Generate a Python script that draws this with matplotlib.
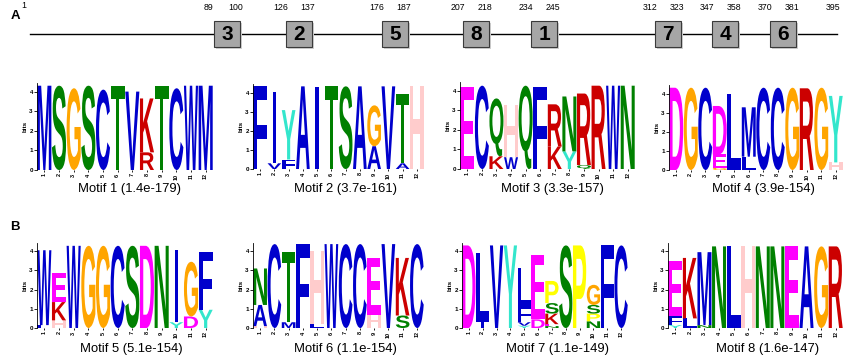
import numpy as np
import matplotlib.pyplot as plt
from matplotlib.patches import Rectangle, PathPatch
from matplotlib.textpath import TextPath
from matplotlib.font_manager import FontProperties
import matplotlib.transforms as mtransforms

# Protein schematic ----------------------------------------------------------
seq_len = 395
box_motif = [3, 2, 5, 8, 1, 7, 4, 6]
box_start = [89, 126, 176, 207, 234, 312, 347, 370]
box_end = [100, 137, 187, 218, 245, 323, 358, 381]
# schematic is not drawn to scale, left edges of boxes in pixels
box_left_px = [214, 286, 382, 463, 531, 655, 712, 770]

# Motif logos: each column is a list of (letter, bits) from bottom to top ----
logo_1 = [[("M", 4.3)], [("S", 4.3)], [("G", 4.17)], [("S", 4.3)], [("C", 4.1)],
          [("T", 4.3)], [("V", 4.0)], [("R", 0.9), ("K", 2.75)], [("T", 4.3)],
          [("C", 4.17)], [("W", 4.3)], [("M", 4.3)]]
logo_2 = [[("F", 4.35)], [("V", 0.3), ("I", 3.75)], [("F", 0.5), ("Y", 2.6)],
          [("A", 4.35)], [("I", 4.3)], [("T", 4.35)], [("S", 4.35)], [("A", 4.35)],
          [("A", 1.2), ("G", 2.15)], [("V", 4.35)], [("A", 0.3), ("T", 3.65)],
          [("H", 4.35)]]
logo_3 = [[("E", 4.17)], [("C", 4.25)], [("K", 0.65), ("Q", 2.95)],
          [("W", 0.6), ("H", 2.65)], [("Q", 4.25)], [("F", 4.17)],
          [("K", 1.15), ("R", 2.15)], [("Y", 0.9), ("N", 2.8)],
          [("Q", 0.2), ("R", 3.65)], [("R", 4.25)], [("W", 4.25)], [("N", 4.25)]]
logo_4 = [[("D", 4.33)], [("G", 4.33)], [("C", 4.33)],
          [("G", 0.12), ("E", 0.7), ("D", 2.55)], [("L", 4.0)],
          [("L", 0.7), ("M", 2.6)], [("C", 4.33)], [("C", 4.33)], [("G", 4.33)],
          [("R", 4.3)], [("G", 4.33)], [("H", 0.4), ("Y", 3.5)]]
logo_5 = [[("L", 0.15), ("W", 3.9)], [("H", 0.4), ("K", 0.95), ("E", 1.5)],
          [("W", 4.28)], [("G", 4.28)], [("G", 4.28)], [("C", 4.28)], [("S", 4.28)],
          [("D", 4.28)], [("N", 4.28)], [("Y", 0.3), ("I", 3.75)],
          [("D", 0.6), ("G", 2.85)], [("Y", 0.95), ("F", 3.0)]]
logo_6 = [[("H", 0.1), ("A", 1.1), ("N", 1.9)], [("C", 4.37)],
          [("M", 0.3), ("T", 3.65)], [("F", 4.37)], [("L", 0.2), ("H", 3.8)],
          [("W", 4.37)], [("C", 4.37)], [("C", 4.37)], [("H", 0.7), ("E", 2.95)],
          [("V", 4.37)], [("S", 0.65), ("K", 3.0)], [("C", 4.37)]]
logo_7 = [[("D", 4.3)], [("I", 0.3), ("L", 3.6)], [("V", 4.3)], [("Y", 4.3)],
          [("Y", 0.12), ("V", 0.18), ("F", 0.85), ("L", 1.95)],
          [("D", 0.45), ("E", 3.35)],
          [("N", 0.1), ("E", 0.1), ("K", 0.55), ("S", 0.55), ("P", 1.15)],
          [("S", 4.3)], [("P", 4.3)],
          [("N", 0.35), ("P", 0.4), ("S", 0.45), ("G", 1.05)],
          [("F", 4.3)], [("C", 4.3)]]
logo_8 = [[("Y", 0.15), ("F", 0.45), ("E", 2.9)], [("L", 0.5), ("K", 3.15)],
          [("N", 0.15), ("M", 3.8)], [("N", 4.25)], [("L", 4.25)], [("H", 4.25)],
          [("N", 4.25)], [("N", 4.25)], [("E", 4.25)], [("A", 4.25)], [("G", 4.25)],
          [("R", 4.25)]]

logos = [logo_1, logo_2, logo_3, logo_4, logo_5, logo_6, logo_7, logo_8]
motif_names = ["Motif 1", "Motif 2", "Motif 3", "Motif 4",
               "Motif 5", "Motif 6", "Motif 7", "Motif 8"]
motif_evalues = ["1.4e-179", "3.7e-161", "3.3e-157", "3.9e-154",
                 "5.1e-154", "1.1e-154", "1.1e-149", "1.6e-147"]

# MEME style amino acid colours
aa_color = {}
for a in "ACFILMVW":
    aa_color[a] = "#0000cc"
for a in "NQST":
    aa_color[a] = "#008000"
for a in "DE":
    aa_color[a] = "#ff00ff"
for a in "KR":
    aa_color[a] = "#cc0000"
aa_color["G"] = "#ffa500"
aa_color["H"] = "#ffcccc"
aa_color["P"] = "#ffff00"
aa_color["Y"] = "#33e6cc"

W, H = 847, 360
fig = plt.figure(figsize=(W / 100, H / 100), dpi=100)
fig.patch.set_facecolor("white")

font = "Liberation Sans"
fp_glyph = FontProperties(family=font, weight="bold")

# overlay axes in pixel units
ax0 = fig.add_axes([0, 0, 1, 1])
ax0.set_xlim(0, W)
ax0.set_ylim(H, 0)
ax0.axis("off")

line_y = 34
box_w = 26
ax0.plot([30, 837], [line_y, line_y], color="black", lw=1.0, zorder=1)
for m, s, e, x in zip(box_motif, box_start, box_end, box_left_px):
    ax0.add_patch(Rectangle((x + 1.5, line_y - 13 + 1.5), box_w, box_w,
                            facecolor="#d0d0d0", edgecolor="none", zorder=2))
    ax0.add_patch(Rectangle((x, line_y - 13), box_w, box_w, facecolor="#a6a6a6",
                            edgecolor="#3a3a3a", lw=0.8, zorder=3))
    ax0.text(x + box_w / 2, line_y + 1, str(m), ha="center", va="center",
             fontsize=15, fontweight="bold", family=font, zorder=4)
    ax0.text(x - 5, 7, str(s), ha="center", va="center", fontsize=6.3, family=font)
    ax0.text(x + box_w - 4, 7, str(e), ha="center", va="center", fontsize=6.3,
             family=font)
ax0.text(24, 5, "1", ha="center", va="center", fontsize=6.3, family=font)
ax0.text(833, 7, str(seq_len), ha="center", va="center", fontsize=6.3, family=font)
ax0.text(15, 16, "A", ha="center", va="center", fontsize=9.5, fontweight="bold",
         family=font)
ax0.text(15, 227, "B", ha="center", va="center", fontsize=9.5, fontweight="bold",
         family=font)


def draw_letter(ax, ch, x, y, w, h):
    tp = TextPath((0, 0), ch, size=1, prop=fp_glyph)
    bb = tp.get_extents()
    if ch == "I":
        x = x + w * 0.37
        w = w * 0.26
    t = (mtransforms.Affine2D().translate(-bb.x0, -bb.y0)
         .scale(w / bb.width, h / bb.height).translate(x, y))
    ax.add_patch(PathPatch(t.transform_path(tp), facecolor=aa_color[ch],
                           edgecolor="none"))


# logo axes positions in pixels: (left, right, baseline, px per bit)
logo_px = [(37, 213, 170, 19.6), (253, 424, 169, 19.0), (460, 635, 169, 19.6),
           (669, 843, 170, 19.0), (37, 213, 328, 19.2), (253, 424, 328, 19.2),
           (462, 628, 328, 19.2), (668, 843, 328, 19.2)]
caption_xy = [(130, 189), (345, 189), (552, 189), (763, 189),
              (131, 349), (345, 349), (558, 349), (768, 349)]

ytop = 4.45
for logo, (x0, x1, base, ppb), name, ev, (cx, cy) in zip(
        logos, logo_px, motif_names, motif_evalues, caption_xy):
    hpx = ytop * ppb
    ax = fig.add_axes([x0 / W, 1 - base / H, (x1 - x0) / W, hpx / H])
    ax.set_xlim(0.5, len(logo) + 0.5)
    ax.set_ylim(0, ytop)
    for i, col in enumerate(logo):
        y = 0
        for ch, bits in col:
            draw_letter(ax, ch, i + 0.52, y, 0.96, bits)
            y += bits
    for sp in ["top", "right", "bottom"]:
        ax.spines[sp].set_visible(False)
    ax.spines["left"].set_linewidth(0.6)
    ax.set_yticks(range(5))
    ax.set_yticklabels([str(v) for v in range(5)], fontsize=4.5, family=font,
                       fontweight="bold")
    ax.set_xticks(range(1, len(logo) + 1))
    ax.set_xticklabels([str(v) for v in range(1, len(logo) + 1)], rotation=90,
                       fontsize=4, family=font, fontweight="bold")
    ax.tick_params(axis="y", length=2, width=0.6, pad=1)
    ax.tick_params(axis="x", length=1.5, width=0.6, pad=1)
    ax.set_ylabel("bits", fontsize=4.5, family=font, fontweight="bold", labelpad=1)
    ax.patch.set_alpha(0)
    ax0.text(cx, cy, f"{name} ({ev})", ha="center", va="center", fontsize=9.4,
             family=font)

fig.savefig("out.png", dpi=100, facecolor="white")
